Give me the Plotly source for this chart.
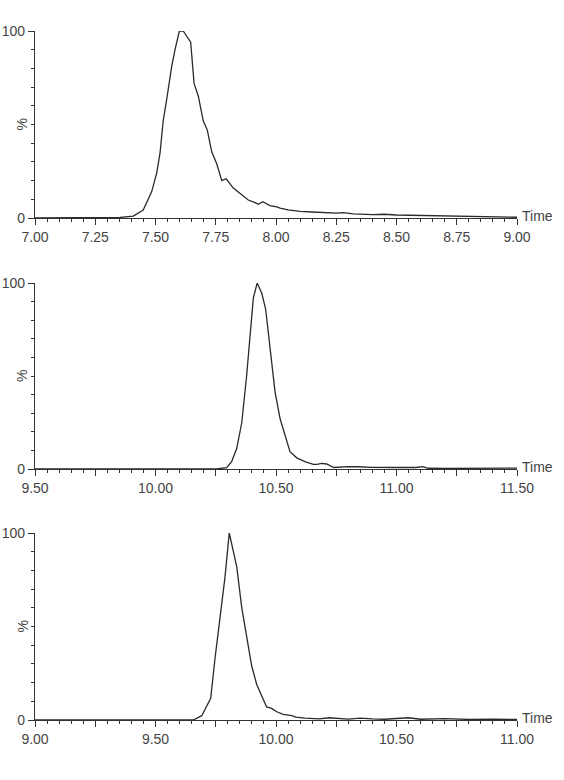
import plotly.graph_objects as go

# ---- data ----
t1 = [7.00, 7.10, 7.20, 7.30, 7.353, 7.408, 7.449, 7.484, 7.505, 7.519, 7.532, 7.546, 7.567, 7.581,
      7.599, 7.615, 7.629, 7.646, 7.660, 7.678, 7.698, 7.715, 7.733, 7.754, 7.775, 7.793, 7.823,
      7.851, 7.885, 7.913, 7.927, 7.945, 7.975, 8.003, 8.017, 8.05, 8.10, 8.15, 8.20, 8.25, 8.28,
      8.32, 8.40, 8.45, 8.50, 8.55, 8.60, 8.65, 8.70, 8.75, 8.80, 8.85, 8.90, 8.95, 9.00]
v1 = [0, 0, 0, 0, 0.3, 1, 4.3, 14, 24, 35, 52, 63, 81, 90,
      100, 100, 97, 94, 72, 65, 52, 47, 35.5, 29, 20, 21, 16,
      13, 9.6, 8.2, 7.3, 8.7, 6.6, 6, 5.3, 4.3, 3.5, 3.2, 3.0, 2.6, 2.9,
      2.2, 1.8, 2.0, 1.6, 1.5, 1.3, 1.4, 1.0, 1.1, 0.8, 1.0, 0.6, 0.8, 0.4]

t2 = [9.50, 9.80, 10.00, 10.20, 10.254, 10.295, 10.316, 10.337, 10.358, 10.378, 10.392, 10.406,
      10.422, 10.441, 10.457, 10.475, 10.496, 10.517, 10.537, 10.558, 10.586, 10.62, 10.655, 10.67,
      10.69, 10.71, 10.74, 10.80, 10.84, 10.90, 11.00, 11.08, 11.11, 11.13, 11.20, 11.30, 11.40, 11.50]
v2 = [0, 0, 0, 0, 0, 0.7, 4, 11, 25, 50, 72, 92,
      100, 94.5, 86, 65, 41.5, 27, 18, 9.3, 6, 4, 2.5, 2.5,
      3, 2.7, 0.8, 1.3, 1.2, 0.9, 0.8, 0.8, 1.3, 0.4, 0.3, 0.3, 0.3, 0.5]

t3 = [9.00, 9.20, 9.40, 9.60, 9.657, 9.692, 9.712, 9.729, 9.747, 9.768, 9.788, 9.806, 9.823, 9.837,
      9.858, 9.878, 9.899, 9.920, 9.941, 9.961, 9.982, 10.003, 10.03, 10.051, 10.065, 10.083, 10.12,
      10.18, 10.22, 10.30, 10.35, 10.40, 10.45, 10.55, 10.60, 10.70, 10.80, 10.90, 11.00]
v3 = [0, 0, 0, 0, 0, 2.3, 7, 11.6, 33, 54, 76, 100, 90, 82,
      60, 44, 29, 19, 12.5, 7, 6.2, 4.4, 3, 2.7, 2.3, 1.5, 1.0,
      0.6, 1.2, 0.5, 1.0, 0.6, 0.4, 1.2, 0.4, 0.7, 0.3, 0.4, 0.3]

ranges = [(7.0, 9.0), (9.5, 11.5), (9.0, 11.0)]
tick_text_1 = ["7.00", "7.25", "7.50", "7.75", "8.00", "8.25", "8.50", "8.75", "9.00"]
tick_text_2 = ["9.50", "", "10.00", "", "10.50", "", "11.00", "", "11.50"]
tick_text_3 = ["9.00", "", "9.50", "", "10.00", "", "10.50", "", "11.00"]
y_ticks = [0, 100]
y_labels = ["0", "100"]

W, H = 564, 780
INK = "#333333"
FONT = "Liberation Sans, Arial, sans-serif"

fig = go.Figure()
series = [(t1, v1), (t2, v2), (t3, v3)]
ydoms = [(1 - 218 / H, 1 - 31 / H), (1 - 469 / H, 1 - 283 / H), (1 - 720 / H, 1 - 533 / H)]
xdom = (35 / W, 517 / W)
ticktexts = [tick_text_1, tick_text_2, tick_text_3]

layout = dict(width=W, height=H, margin=dict(l=0, r=0, t=0, b=0, pad=0, autoexpand=False),
              paper_bgcolor="white", plot_bgcolor="white", showlegend=False,
              font=dict(family=FONT, size=14, color=INK))
annotations = []
for i, ((t, v), (lo, hi), yd, tt) in enumerate(zip(series, ranges, ydoms, ticktexts)):
    sfx = "" if i == 0 else str(i + 1)
    fig.add_trace(go.Scatter(x=t, y=v, mode="lines", line=dict(color="#2a2a2a", width=1.3),
                             xaxis="x" + sfx, yaxis="y" + sfx, hoverinfo="skip"))
    tickvals = [lo + 0.25 * k for k in range(9)]
    layout["xaxis" + sfx] = dict(domain=xdom, range=[lo, hi], anchor="y" + sfx, automargin=False,
                                 showgrid=False, zeroline=False, showline=True, linecolor=INK, linewidth=1.3,
                                 ticks="outside", ticklen=6, tickwidth=1, tickcolor=INK,
                                 tickvals=tickvals, ticktext=tt,
                                 tickfont=dict(family=FONT, size=14, color="#444444"),
                                 minor=dict(dtick=0.05, tick0=lo, ticks="outside", ticklen=3,
                                            tickcolor=INK, showgrid=False))
    layout["yaxis" + sfx] = dict(domain=yd, range=[0, 100], anchor="x" + sfx, automargin=False,
                                 showgrid=False, zeroline=False, showline=True, linecolor=INK, linewidth=1.3,
                                 ticks="outside", ticklen=6, tickwidth=1, tickcolor=INK,
                                 tickvals=y_ticks, ticktext=y_labels, ticklabelstandoff=0,
                                 tickfont=dict(family=FONT, size=14, color="#444444"),
                                 minor=dict(dtick=10, tick0=0, ticks="outside", ticklen=3,
                                            tickcolor=INK, showgrid=False))
    annotations.append(dict(text="Time", x=xdom[1] + 3 / W, xref="paper", xanchor="left",
                            y=0, yref="y" + sfx, yanchor="middle", yshift=2, showarrow=False,
                            font=dict(family=FONT, size=14, color="#444444")))
    annotations.append(dict(text="%", x=22 / W, xref="paper", xanchor="center",
                            y=50, yref="y" + sfx, yanchor="middle", textangle=-90, showarrow=False,
                            font=dict(family=FONT, size=14, color="#444444")))
layout["annotations"] = annotations
fig.update_layout(**layout)
fig.write_html("out.html")
